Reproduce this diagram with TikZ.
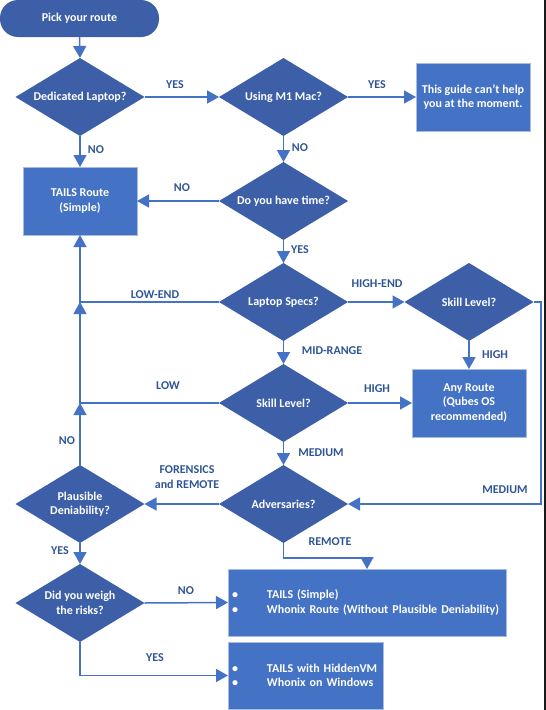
\documentclass[tikz,border=0pt]{standalone}
\usepackage{fontspec}
\setmainfont{Carlito}
\usetikzlibrary{shapes.geometric,arrows.meta}
\definecolor{dia}{HTML}{3C5FA8}
\definecolor{boxc}{HTML}{4472C4}
\definecolor{edgec}{HTML}{A9BCE0}
\definecolor{lab}{HTML}{2F5597}
\definecolor{connc}{HTML}{4472C4}
\begin{document}
\begin{tikzpicture}[x=1pt,y=-1pt,
 font=\fontsize{12}{14.5}\selectfont\bfseries,
 dec/.style={diamond, fill=dia, text=white, aspect=1.65, inner sep=0pt, outer sep=0pt, minimum width=129pt, minimum height=78pt, align=center},
 res/.style={rectangle, fill=boxc, draw=edgec, line width=1pt, text=white, minimum width=114pt, minimum height=68pt, inner sep=0pt, outer sep=0pt, align=center},
 term/.style={rectangle, rounded corners=18pt, fill=dia, text=white, minimum width=159pt, minimum height=37pt, inner sep=0pt},
 lbl/.style={text=lab, inner sep=0pt, align=center},
 connline/.style={draw=connc, line width=1.5pt},
 arr/.style={connline, -{Triangle[length=12pt,width=13pt]}},
]
\useasboundingbox (0,0) rectangle (546,710);
\fill[black!90] (543.5,0) rectangle (546,710);

\node[term] (start) at (79.5,18.5) {Pick your route};
\node[dec] (d1) at (80,97) {Dedicated Laptop?};
\node[dec] (d2) at (283.5,97) {Using M1 Mac?};
\node[res] (guide) at (473,97) {This guide can’t help\\you at the moment.};
\node[res] (tails) at (80,201) {TAILS Route\\(Simple)};
\node[dec] (d3) at (283.5,201) {Do you have time?};
\node[dec] (ls) at (283.5,302) {Laptop Specs?};
\node[dec] (skr) at (469,302) {Skill Level?};
\node[res] (any) at (469,403) {Any Route\\(Qubes OS\\recommended)};
\node[dec] (skc) at (283.5,403) {Skill Level?};
\node[dec] (adv) at (283.5,504) {Adversaries?};
\node[dec] (pd) at (80,504) {Plausible\\Deniability?};
\node[dec] (risk) at (80,603) {Did you weigh\\the risks?};
\node[res, minimum width=278pt, minimum height=67pt, text width=270pt, align=left] (b1) at (367,602.5)
  {\makebox[35pt][l]{\textbullet}TAILS (Simple)\\\makebox[35pt][l]{\textbullet}Whonix Route (Without Plausible Deniability)};
\node[res, minimum width=155pt, minimum height=67pt, text width=147pt, align=left] (b2) at (305.5,675.5)
  {\makebox[35pt][l]{\textbullet}TAILS with HiddenVM\\\makebox[35pt][l]{\textbullet}Whonix on Windows};

\node[lbl] (yes1) at (175,85) {YES};
\node[lbl] (yes2) at (377,85) {YES};
\node[lbl] (no1) at (96,150) {NO};
\node[lbl] (no2) at (300,148) {NO};
\node[lbl] (no3) at (182,188) {NO};
\node[lbl] (yes3) at (300,250) {YES};
\node[lbl] (lowend) at (155,295) {LOW-END};
\node[lbl] (highend) at (377,284) {HIGH-END};
\node[lbl] (mid) at (332,351) {MID-RANGE};
\node[lbl] (high1) at (495,355) {HIGH};
\node[lbl] (low) at (168,386) {LOW};
\node[lbl] (high2) at (377,389) {HIGH};
\node[lbl] (no4) at (67,441) {NO};
\node[lbl] (med1) at (321,453) {MEDIUM};
\node[lbl] (forens) at (187,477) {FORENSICS\\and REMOTE};
\node[lbl] (med2) at (505,490) {MEDIUM};
\node[lbl] (remote) at (330,542) {REMOTE};
\node[lbl] (yes4) at (60,551) {YES};
\node[lbl] (no5) at (186,591) {NO};
\node[lbl] (yes5) at (155,658) {YES};

\draw[arr] (start.south) -- (d1.north);
\draw[arr] (d1.east) -- (d2.west);
\draw[arr] (d2.east) -- (guide.west);
\draw[arr] (d1.south) -- (tails.north);
\draw[arr] (d2.south) -- (d3.north);
\draw[arr] (d3.west) -- (tails.east);
\draw[arr] (d3.south) -- (ls.north);
\coordinate (j1) at (tails.south |- ls.west);
\coordinate (j2) at (tails.south |- skc.west);
\draw[arr] (ls.west) -- (j1) -- (tails.south);
\draw[arr] (skc.west) -- (j2) -- (j1);
\draw[arr] (pd.north) -- (j2);
\draw[arr] (ls.east) -- (skr.west);
\draw[arr] (ls.south) -- (skc.north);
\draw[arr] (skr.south) -- (any.north);
\draw[arr] (skc.east) -- (any.west);
\coordinate (rt) at (541,302);
\draw[arr] (skr.east) -- (rt) |- (adv.east);
\draw[arr] (skc.south) -- (adv.north);
\draw[arr] (adv.west) -- (pd.east);
\coordinate (rm) at (283.5,558);
\draw[arr] (adv.south) -- (rm) -| (b1.north);
\draw[arr] (pd.south) -- (risk.north);
\draw[arr] (risk.east) -- (b1.west);
\draw[arr] (risk.south) |- (b2.west);
\end{tikzpicture}
\end{document}
